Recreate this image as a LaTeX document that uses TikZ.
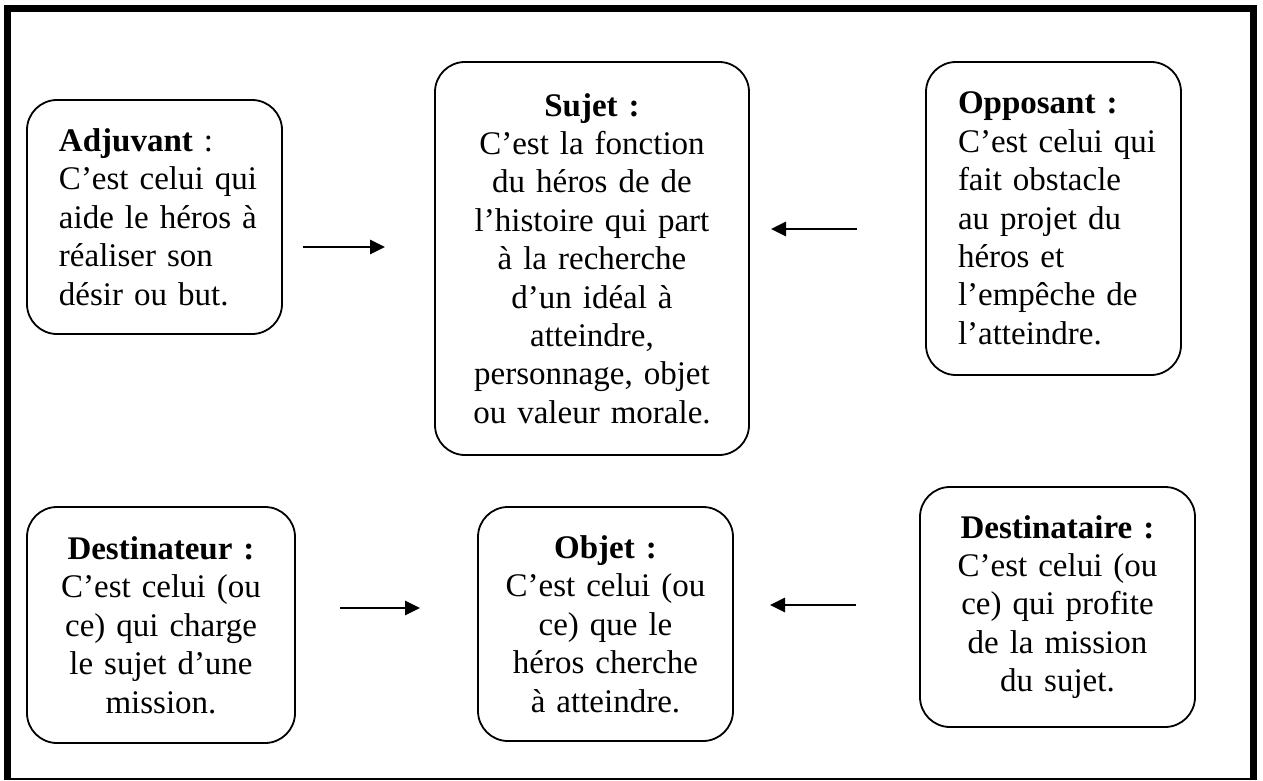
\documentclass[tikz,border=0pt]{standalone}
\usepackage{fontspec}
\setmainfont{Liberation Serif}
\usetikzlibrary{arrows.meta}
\hfuzz=100pt
\begin{document}
\begin{tikzpicture}[x=1bp,y=-1bp,
  box/.style={draw,line width=1.8bp,rounded corners=30bp,inner sep=0pt,
    font=\fontsize{33bp}{38.4bp}\selectfont},
  arr/.style={line width=2.8bp,-{Triangle[length=15bp,width=14bp]}},
  frame/.style={line width=7bp}]
\useasboundingbox (0,0) rectangle (1263,781);
% outer frame
\draw[frame] (7.5,780) -- (7.5,8.5) -- (1253.5,8.5) -- (1253.5,780);
\draw[line width=2.5bp] (7.5,779) -- (1253.5,779);
% boxes
\node[box,minimum width=255bp,minimum height=234bp,text width=191bp,align=left] (adj) at (154.5,217)
  {\mbox{\textbf{Adjuvant} :}\\\mbox{C’est celui qui}\\\mbox{aide le héros à}\\\mbox{réaliser son}\\\mbox{désir ou but.}};
\node[box,minimum width=314bp,minimum height=393bp,text width=290bp,align=center] (suj) at (592,258.5)
  {\textbf{Sujet :}\\C’est la fonction\\du héros de de\\l’histoire qui part\\à la recherche\\d’un idéal à\\atteindre,\\personnage, objet\\ou valeur morale.};
\node[box,minimum width=255bp,minimum height=313bp,text width=191bp,align=left] (opp) at (1053.5,218.5)
  {\mbox{\textbf{Opposant :}}\\\mbox{C’est celui qui}\\\mbox{fait obstacle}\\\mbox{au projet du}\\\mbox{héros et}\\\mbox{l’empêche de}\\\mbox{l’atteindre.}};
\node[box,minimum width=268bp,minimum height=236bp,text width=250bp,align=center] (dtr) at (161,625)
  {\textbf{Destinateur :}\\C’est celui (ou\\ce) qui charge\\le sujet d’une\\mission.};
\node[box,minimum width=255bp,minimum height=234bp,text width=240bp,align=center] (obj) at (605.5,624)
  {\textbf{Objet :}\\C’est celui (ou\\ce) que le\\héros cherche\\à atteindre.};
\node[box,minimum width=275bp,minimum height=240bp,text width=260bp,align=center] (dta) at (1057.5,607)
  {\textbf{Destinataire :}\\C’est celui (ou\\ce) qui profite\\de la mission\\du sujet.};
% arrows
\coordinate (a1s) at (303,247); \coordinate (a1e) at (385,247);
\coordinate (a2s) at (857,229); \coordinate (a2e) at (771,229);
\coordinate (a3s) at (340,608); \coordinate (a3e) at (420,608);
\coordinate (a4s) at (856,605); \coordinate (a4e) at (770,605);
\draw[arr] (a1s) -- (a1e);
\draw[arr] (a2s) -- (a2e);
\draw[arr] (a3s) -- (a3e);
\draw[arr] (a4s) -- (a4e);
\end{tikzpicture}
\end{document}
